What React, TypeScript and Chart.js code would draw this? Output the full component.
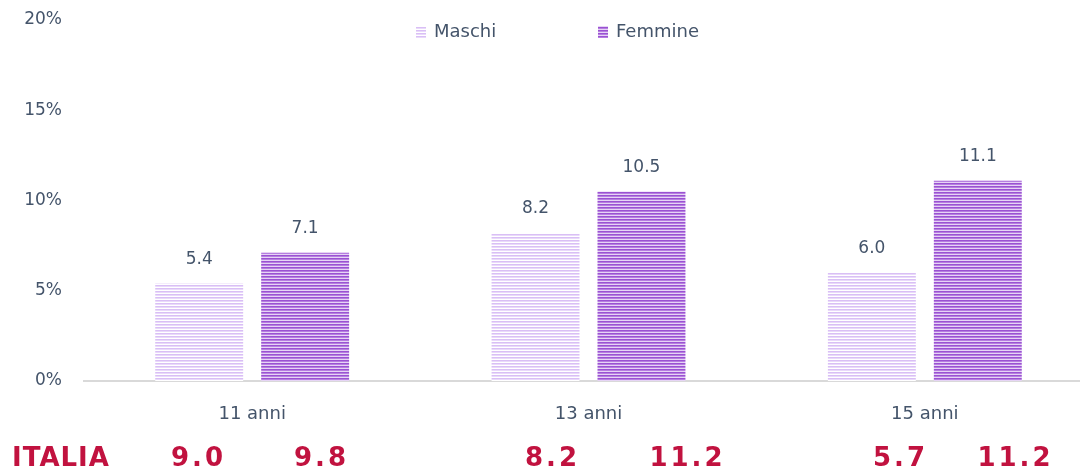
import { useEffect, useRef } from 'react';
import { Chart, registerables } from 'chart.js';

Chart.register(...registerables);

const categories = ['11 anni', '13 anni', '15 anni'];
const seriesLabels = ['Maschi', 'Femmine'];
const maschi = [5.4, 8.2, 6.0];
const femmine = [7.1, 10.5, 11.1];
const yTickValues = [0, 5, 10, 15, 20];
const italiaLabel = 'ITALIA';
const italiaValues = [9.0, 9.8, 8.2, 11.2, 5.7, 11.2];

const TEXT = '#44546A';
const FONT = '"DejaVu Sans", Verdana, sans-serif';
const RED = '#C1123F';

function stripes(colors: string[]): CanvasPattern | string {
  const c = document.createElement('canvas');
  c.width = 4;
  c.height = colors.length;
  const g = c.getContext('2d');
  if (!g) return colors[0];
  colors.forEach((col, i) => {
    g.fillStyle = col;
    g.fillRect(0, i, 4, 1);
  });
  return g.createPattern(c, 'repeat') || colors[0];
}

export default function App() {
  const ref = useRef<HTMLCanvasElement | null>(null);

  useEffect(() => {
    if (!ref.current) return;
    const pM = stripes(['#D9BFF5', '#E9D9FA', '#FFFFFF']);
    const pF = stripes(['#9A52D2', '#B67EE0', '#E6D4F5']);
    const patterns = [pM, pF];

    const overlay = {
      id: 'overlay',
      afterDraw(chart: any) {
        const ctx = chart.ctx as CanvasRenderingContext2D;
        ctx.save();
        // value labels
        ctx.font = `17px ${FONT}`;
        ctx.fillStyle = TEXT;
        ctx.textAlign = 'center';
        ctx.textBaseline = 'middle';
        chart.data.datasets.forEach((ds: any, di: number) => {
          const meta = chart.getDatasetMeta(di);
          meta.data.forEach((bar: any, i: number) => {
            ctx.fillText(Number(ds.data[i]).toFixed(1), bar.x, bar.y - 24);
          });
        });
        // legend
        const legendX = [416, 598];
        seriesLabels.forEach((lab, i) => {
          ctx.fillStyle = patterns[i] as any;
          ctx.fillRect(legendX[i], 26, 10, 12);
          ctx.fillStyle = TEXT;
          ctx.font = `18px ${FONT}`;
          ctx.textAlign = 'left';
          ctx.textBaseline = 'middle';
          ctx.fillText(lab, legendX[i] + 18, 32);
        });
        // bottom row
        ctx.fillStyle = RED;
        ctx.textBaseline = 'middle';
        ctx.font = `bold 26px "DejaVu Sans", sans-serif`;
        ctx.textAlign = 'left';
        (ctx as any).letterSpacing = '1px';
        ctx.fillText(italiaLabel, 12, 459);
        const centers = [197, 320, 551, 686, 899, 1014];
        ctx.textAlign = 'center';
        (ctx as any).letterSpacing = '3px';
        italiaValues.forEach((v, i) => {
          ctx.fillText(v.toFixed(1), centers[i] + 1.5, 459);
        });
        ctx.restore();
      },
    };

    const chart = new Chart(ref.current, {
      type: 'bar',
      data: {
        labels: categories,
        datasets: [
          {
            label: seriesLabels[0],
            data: maschi,
            backgroundColor: pM as any,
            borderWidth: 0,
            categoryPercentage: 0.63,
            barPercentage: 0.83,
          },
          {
            label: seriesLabels[1],
            data: femmine,
            backgroundColor: pF as any,
            borderWidth: 0,
            categoryPercentage: 0.63,
            barPercentage: 0.83,
          },
        ],
      },
      options: {
        responsive: false,
        animation: false,
        devicePixelRatio: 1,
        layout: { padding: { top: 20, right: 7, bottom: 0, left: 0 } },
        plugins: {
          legend: { display: false },
          tooltip: { enabled: false },
        },
        scales: {
          x: {
            grid: { display: true, drawOnChartArea: false, drawTicks: false },
            border: { display: true, color: '#D9D9D9', width: 2 },
            ticks: {
              color: TEXT,
              font: { family: FONT, size: 18 },
              padding: 23,
            },
            afterFit: (s: any) => {
              s.height = 90;
            },
          },
          y: {
            min: 0,
            max: 20,
            grid: { display: false, drawTicks: false },
            border: { display: false },
            afterBuildTicks: (s: any) => {
              s.ticks = yTickValues.map((v) => ({ value: v }));
            },
            ticks: {
              color: TEXT,
              font: { family: FONT, size: 17 },
              padding: 22,
              callback: (v: any) => `${v}%`,
            },
            afterFit: (s: any) => {
              s.width = 84;
              s.paddingTop = 0;
              s.paddingBottom = 0;
            },
          },
        },
      },
      plugins: [overlay],
    });
    return () => chart.destroy();
  }, []);

  return (
    <div
      style={{
        position: 'fixed',
        left: 0,
        top: 0,
        width: 1080,
        height: 471,
        overflow: 'hidden',
        background: '#fff',
      }}
    >
      <canvas ref={ref} width={1100} height={471} style={{ display: 'block' }} />
    </div>
  );
}
